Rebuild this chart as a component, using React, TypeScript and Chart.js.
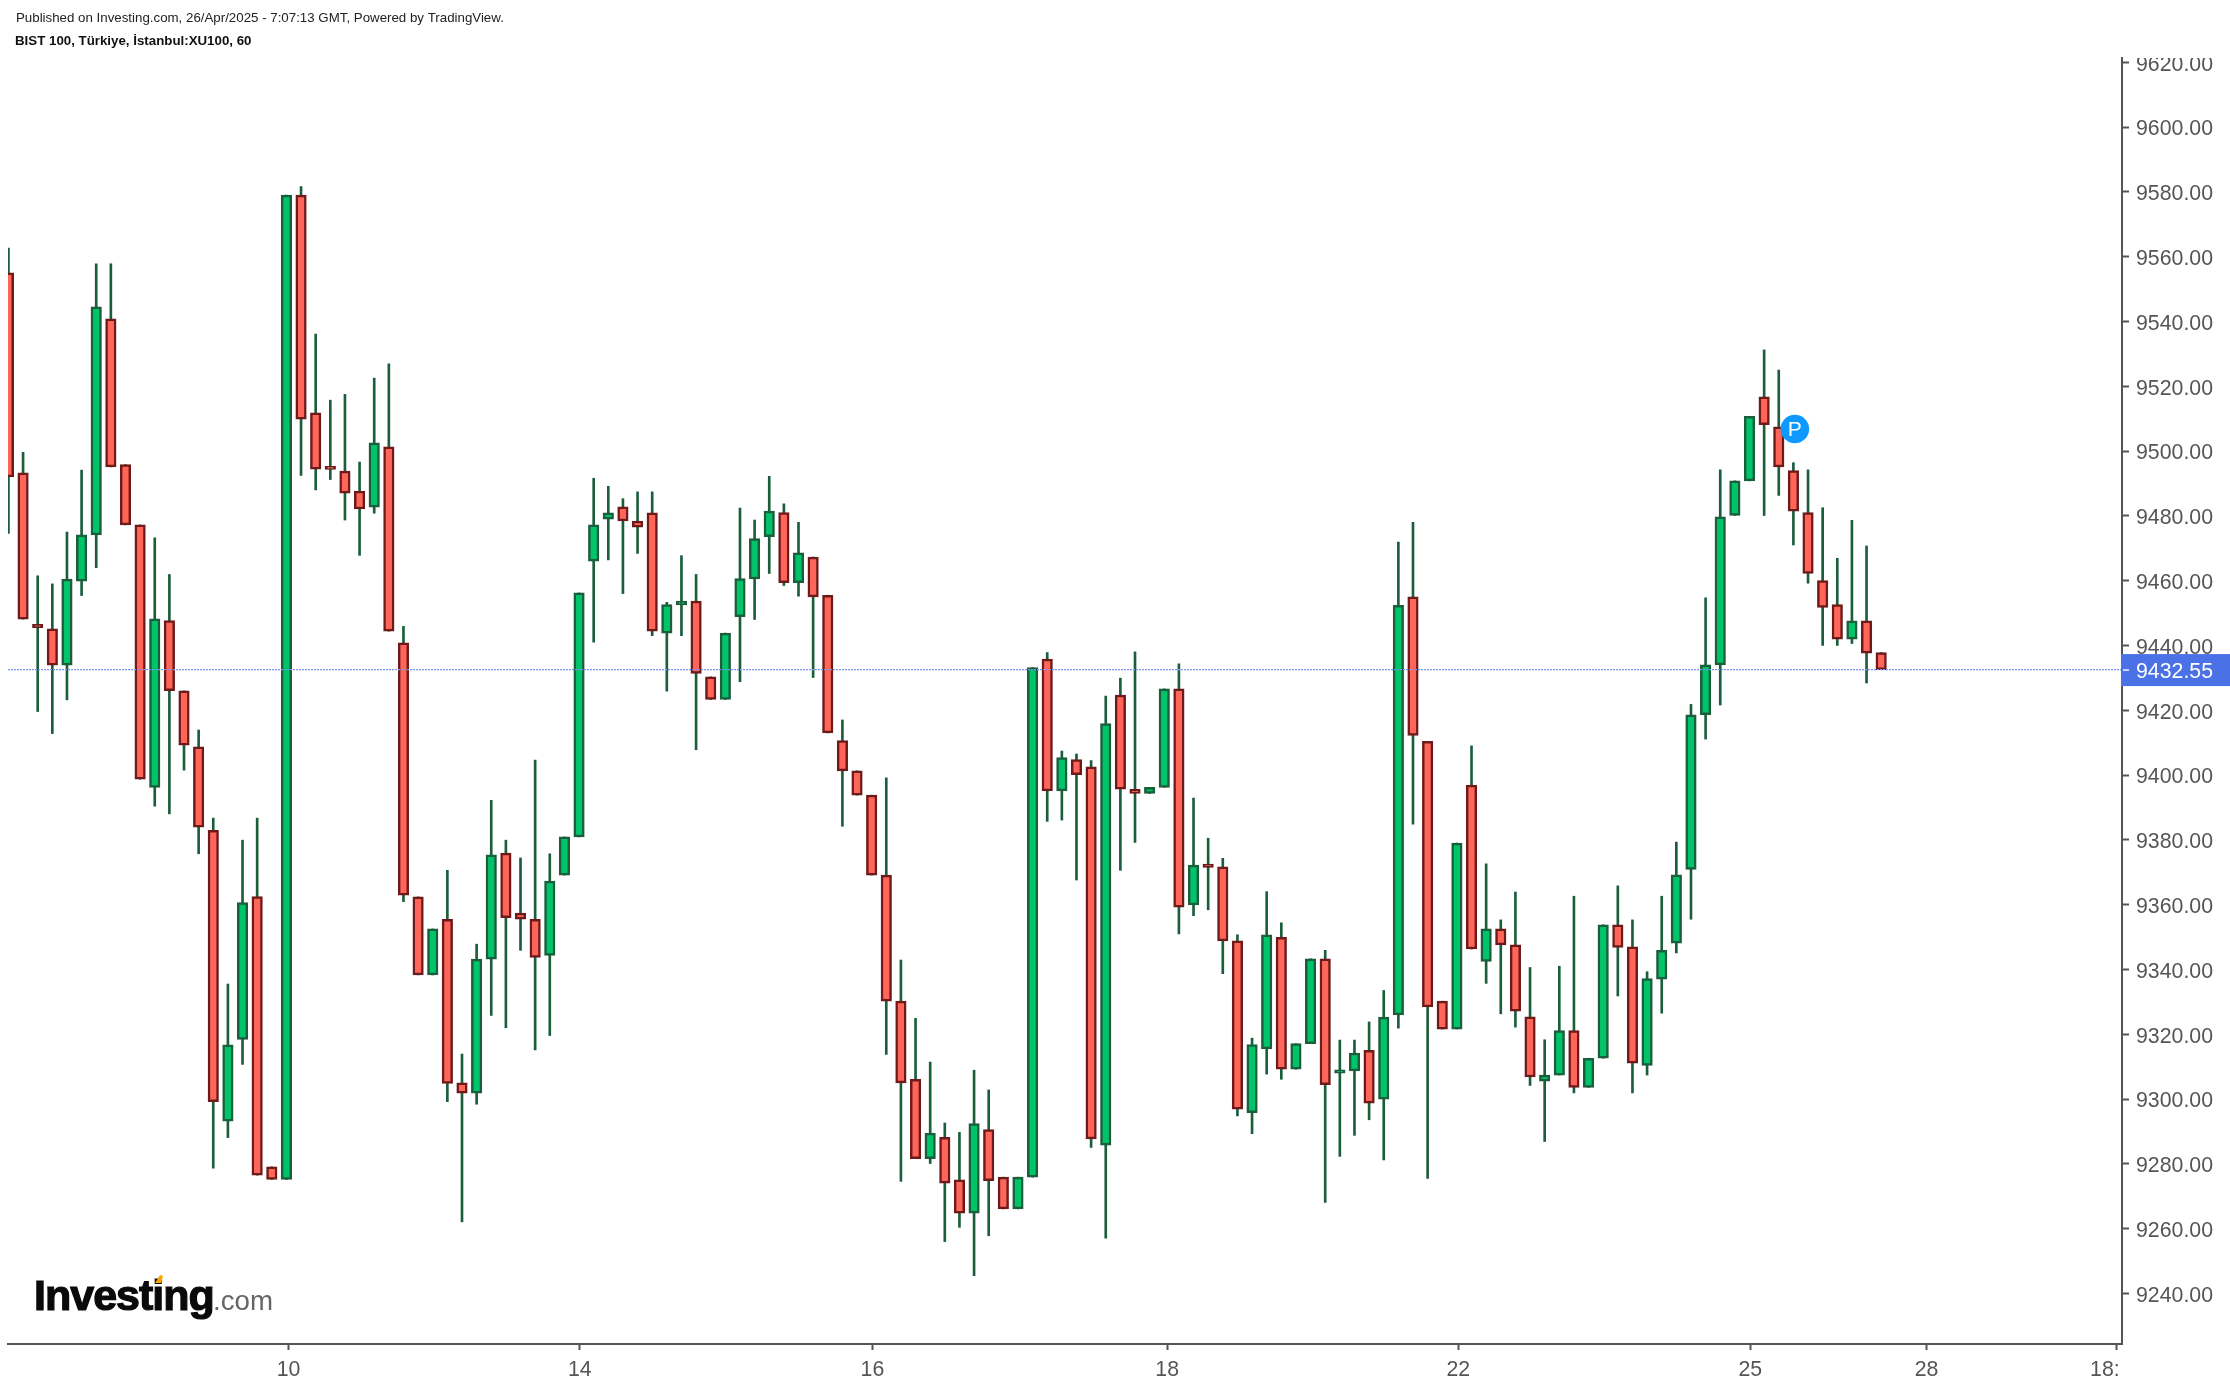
import React, { useEffect, useRef } from 'react'
import { Chart, registerables } from 'chart.js'

Chart.register(...registerables)

const opens = [
  9555, 9493.3, 9446.5, 9445.1, 9433.9, 9459.8, 9474.1, 9540.8, 9495.8, 9477.2,
  9396.2, 9447.7, 9426, 9408.7, 9382.9, 9293.2, 9318.4, 9362.5, 9279.1, 9275.2,
  9579, 9511.8, 9495.3, 9493.8, 9487.6, 9482.7, 9501.3, 9440.8, 9362.4, 9338.3,
  9355.5, 9305, 9301.8, 9343.2, 9375.9, 9357.4, 9355.5, 9344.3, 9369.1, 9380.9,
  9466, 9479, 9482.8, 9478.4, 9480.9, 9443.8, 9452.5, 9453.7, 9430.3, 9423.3,
  9448.9, 9460.5, 9473.6, 9481, 9459.4, 9467.3, 9455.5, 9410.6, 9401.3, 9393.8,
  9369.1, 9330.2, 9306.1, 9281.6, 9288.2, 9275.1, 9264.8, 9290.6, 9275.9, 9266.1,
  9275.9, 9435.8, 9395.1, 9404.8, 9402.5, 9285.8, 9424.7, 9395.6, 9394.3, 9396.2,
  9426.6, 9359.9, 9372.5, 9371.7, 9348.8, 9295.8, 9315.5, 9349.9, 9309.2, 9317.1,
  9343.3, 9308, 9308.7, 9315, 9300, 9326, 9455, 9410.4, 9330.2, 9321.6,
  9396.9, 9342.5, 9352.5, 9347.6, 9325.4, 9305.5, 9307.4, 9321.1, 9303.6, 9312.6,
  9353.8, 9347, 9310.4, 9337, 9348.1, 9370.9, 9418.6, 9434, 9480.1, 9490.8,
  9516.7, 9507.5, 9494, 9481, 9460, 9452.6, 9441.9, 9447.6, 9437.8,
]
const closes = [
  9492, 9448.1, 9445.5, 9433.9, 9460.5, 9474.1, 9544.5, 9495.1, 9477.2, 9398.7,
  9448.2, 9426, 9409.2, 9383.9, 9299.2, 9316.7, 9360.6, 9276.5, 9275.2, 9579,
  9509.8, 9494.4, 9494.3, 9487, 9482.1, 9502.5, 9444.4, 9362.9, 9338.3, 9352.5,
  9304.8, 9301.8, 9343.2, 9375.4, 9356, 9355.5, 9343.7, 9367.3, 9380.9, 9456.2,
  9477.2, 9480.9, 9478.4, 9476.5, 9444.4, 9452.6, 9453.7, 9431.4, 9423.3, 9443.8,
  9460.6, 9473, 9481.5, 9459.4, 9468.6, 9455, 9413, 9401.3, 9393.8, 9369.1,
  9330.2, 9305, 9281.6, 9289.5, 9274, 9264.8, 9292.4, 9274.8, 9266.1, 9275.9,
  9433.2, 9395.1, 9405.4, 9400.1, 9287.7, 9415.9, 9395.6, 9394.3, 9396.2, 9426.6,
  9359.2, 9372.2, 9371.5, 9348.8, 9296.9, 9316.8, 9350.7, 9309.2, 9317.1, 9343.3,
  9304.4, 9309, 9314.2, 9298.7, 9325.3, 9452.4, 9412.2, 9328.4, 9321.6, 9379,
  9346.3, 9352.5, 9347.6, 9327.1, 9306.8, 9307.4, 9321.1, 9303.6, 9312.6, 9353.8,
  9346.8, 9311.1, 9337.2, 9345.9, 9369.2, 9418.6, 9434, 9479.7, 9490.8, 9510.7,
  9508.1, 9495.1, 9481.4, 9462.2, 9451.7, 9441.9, 9447.6, 9437.6, 9432.55,
]
const highs = [
  9562.6, 9499.6, 9461.5, 9459, 9475, 9494.1, 9557.8, 9557.8, 9495.8, 9477.2,
  9473.2, 9461.9, 9426, 9413.9, 9386.7, 9335.5, 9379.9, 9386.7, 9279.1, 9579,
  9581.6, 9536.1, 9515.7, 9517.5, 9496.6, 9522.5, 9526.9, 9445.9, 9362.4, 9352.5,
  9370.6, 9313.9, 9347.8, 9392.2, 9379.9, 9374.4, 9404.6, 9375.7, 9380.9, 9456.2,
  9491.6, 9489.1, 9485.3, 9487.4, 9487.4, 9453.3, 9467.7, 9461.9, 9430.3, 9443.8,
  9482.4, 9478.7, 9492.2, 9483.7, 9478, 9467.3, 9455.5, 9417, 9401.3, 9393.8,
  9399.1, 9342.9, 9324.9, 9311.4, 9292.6, 9289.7, 9308.9, 9302.8, 9275.9, 9275.9,
  9433.2, 9437.8, 9407.4, 9406.5, 9404.5, 9424.4, 9429.9, 9438, 9396.2, 9426.6,
  9434.3, 9392.9, 9380.5, 9374.3, 9350.7, 9318.8, 9364, 9354.4, 9317.1, 9343.3,
  9345.9, 9318.2, 9318.2, 9323.8, 9333.5, 9471.9, 9478, 9410.4, 9330.2, 9379,
  9409, 9372.6, 9355.3, 9363.9, 9340.6, 9318.3, 9341, 9362.6, 9312.6, 9353.8,
  9365.8, 9355.3, 9339.3, 9362.6, 9379.3, 9421.8, 9454.7, 9494.2, 9490.8, 9510.7,
  9531.2, 9525, 9496.4, 9494.2, 9482.5, 9466.9, 9478.6, 9470.7, 9437.8,
]
const lows = [
  9474.6, 9448.1, 9419.6, 9412.8, 9423.2, 9455.4, 9464, 9495.1, 9477.2, 9398.7,
  9390.4, 9388, 9401.5, 9375.7, 9278.7, 9288.1, 9310.7, 9276.5, 9275.2, 9275.2,
  9492.5, 9488, 9491.2, 9478.7, 9467.8, 9480.8, 9444.4, 9360.9, 9338.3, 9338.3,
  9299.2, 9262.1, 9298.4, 9325.8, 9322, 9345.9, 9315.2, 9319.6, 9369.1, 9380.9,
  9441, 9466.4, 9456, 9468.4, 9443, 9425.9, 9443, 9407.8, 9423.3, 9423.3,
  9428.8, 9448, 9462.2, 9458.5, 9455.2, 9430.1, 9413, 9384.2, 9393.8, 9369.1,
  9313.8, 9274.6, 9281.6, 9280.1, 9256, 9260.4, 9245.5, 9257.8, 9266.1, 9266.1,
  9275.9, 9385.7, 9386.1, 9367.6, 9285.1, 9257.1, 9370.6, 9379.2, 9394.3, 9396.2,
  9351, 9356.6, 9358.4, 9338.7, 9294.8, 9289.3, 9307.7, 9306.1, 9309.2, 9317.1,
  9268.1, 9282.3, 9288.8, 9293.6, 9281.2, 9321.9, 9384.8, 9275.5, 9321.6, 9321.6,
  9346.3, 9335.7, 9326.3, 9322.2, 9304.2, 9286.9, 9307.4, 9301.9, 9303.6, 9312.6,
  9331.8, 9301.9, 9307.4, 9326.5, 9345.1, 9355.5, 9411.1, 9421.6, 9480.1, 9490.8,
  9480.1, 9486.3, 9471, 9459.2, 9440, 9440, 9440.6, 9428.4, 9432.55,
]

const priceTicks = [
  9620, 9600, 9580, 9560, 9540, 9520, 9500, 9480, 9460, 9440, 9420, 9400, 9380,
  9360, 9340, 9320, 9300, 9280, 9260, 9240,
]
const dayTickBars = [19.15, 39.05, 59.05, 79.2, 99.1, 119.05, 131.1, 144.1]
const dayTickLabels = ['10', '14', '16', '18', '22', '25', '28', '18:00']

const lastPrice = 9432.55
const publishedText = 'Published on Investing.com, 26/Apr/2025 - 7:07:13 GMT, Powered by TradingView.'
const symbolText = 'BIST 100, Türkiye, İstanbul:XU100, 60'

const X_MIN = -0.03
const X_MAX = 144.46
const Y_MIN = 9224.4
const Y_MAX = 9621.3
const AXIS_COLOR = '#555555'
const WICK_COLOR = '#1b5e3c'
const FONT = '"Liberation Sans", Arial, sans-serif'

const barIndexes = opens.map((_, i) => i)

const overlayPlugin = {
  id: 'overlay',
  beforeDraw(chart: any) {
    // price labels sit a touch below their tick marks
    chart.scales.y.getLabelItems().forEach((item: any) => {
      item.textOffset = 2.5
    })
  },
  afterDraw(chart: any) {
    const { ctx, scales } = chart
    const x = scales.x
    const y = scales.y
    const priceY = y.getPixelForValue(lastPrice)
    ctx.save()

    // label above the pane and the time label past the price axis are cut off in the original
    ctx.fillStyle = '#ffffff'
    ctx.fillRect(x.right + 1, 0, chart.width - x.right, y.top)
    ctx.fillRect(x.right - 4, y.bottom + 8, chart.width - x.right + 4, chart.height - y.bottom)
    ctx.fillRect(x.right + 1, y.bottom - 1, chart.width - x.right, chart.height - y.bottom + 1)

    // last price tag
    ctx.fillStyle = '#4a72e6'
    ctx.fillRect(x.right - 1, priceY - 15.5, chart.width - x.right + 1, 32)
    ctx.fillStyle = '#c9d4f7'
    ctx.fillRect(x.right + 1, priceY - 0.5, 6, 2)
    ctx.fillStyle = '#ffffff'
    ctx.font = `21.3px ${FONT}`
    ctx.textBaseline = 'middle'
    ctx.textAlign = 'left'
    ctx.fillText(lastPrice.toFixed(2), x.right + 14, priceY + 2.5)

    // publish marker
    const markerX = x.getPixelForValue(122.1)
    const markerY = y.getPixelForValue(9506.8)
    ctx.fillStyle = '#0d99ff'
    ctx.beginPath()
    ctx.arc(markerX, markerY, 14.3, 0, Math.PI * 2)
    ctx.fill()
    ctx.fillStyle = '#ffffff'
    ctx.font = `21px ${FONT}`
    ctx.textAlign = 'center'
    ctx.fillText('P', markerX, markerY + 1)

    // header
    ctx.textAlign = 'left'
    ctx.fillStyle = '#222222'
    ctx.font = `13.3px ${FONT}`
    ctx.fillText(publishedText, 16, 18)
    ctx.fillStyle = '#111111'
    ctx.font = `bold 13.3px ${FONT}`
    ctx.fillText(symbolText, 15, 41)

    // logo
    ctx.textBaseline = 'alphabetic'
    ctx.filter = 'blur(0.6px)'
    ctx.fillStyle = '#0a0a0a'
    ctx.strokeStyle = '#0a0a0a'
    ctx.lineWidth = 1.2
    ctx.font = `bold 43px ${FONT}`
    ctx.letterSpacing = '-1px'
    ctx.fillText('Investing', 34, 1310)
    ctx.strokeText('Investing', 34, 1310)
    ctx.fillStyle = '#666666'
    ctx.font = `27.7px ${FONT}`
    ctx.letterSpacing = '0px'
    ctx.fillText('.com', 213, 1310)
    ctx.fillStyle = '#f7a400'
    ctx.beginPath()
    ctx.moveTo(155, 1283)
    ctx.lineTo(160, 1275)
    ctx.lineTo(163, 1276)
    ctx.lineTo(161, 1283)
    ctx.closePath()
    ctx.fill()
    ctx.restore()
  },
}

const App = () => {
  const chartRef = useRef<HTMLCanvasElement | null>(null)

  useEffect(() => {
    document.body.style.margin = '0'
    if (!chartRef.current) return
    const chart = new Chart(chartRef.current, {
      type: 'bar',
      data: {
        datasets: [
          {
            type: 'line',
            order: 0,
            data: [
              { x: X_MIN, y: lastPrice },
              { x: X_MAX, y: lastPrice },
            ],
            borderColor: '#7a93ee',
            borderWidth: 1.2,
            borderDash: [2, 1],
            pointRadius: 0,
          },
          {
            order: 1,
            grouped: false,
            data: barIndexes.map((i) => ({ x: i, y: [opens[i], closes[i]] })),
            barThickness: 10.5,
            borderWidth: 2.5,
            borderSkipped: false,
            backgroundColor: barIndexes.map((i) => (closes[i] >= opens[i] ? '#00c46a' : '#ff6659')),
            borderColor: barIndexes.map((i) => (closes[i] >= opens[i] ? '#1b5e3c' : '#6e1a1a')),
          },
          {
            order: 2,
            grouped: false,
            data: barIndexes.map((i) => ({ x: i, y: [lows[i], highs[i]] })),
            barThickness: 2,
            backgroundColor: WICK_COLOR,
            borderWidth: 0,
          },
        ],
      } as any,
      options: {
        responsive: false,
        animation: false,
        layout: { padding: { left: 8, top: 58, right: 0, bottom: 0 } },
        plugins: {
          legend: { display: false },
          tooltip: { enabled: false },
        },
        scales: {
          x: {
            type: 'linear',
            offset: false,
            min: X_MIN,
            max: X_MAX,
            afterFit: (scale: any) => {
              scale.height = 42
            },
            afterBuildTicks: (scale: any) => {
              scale.ticks = dayTickBars.map((value) => ({ value }))
            },
            border: { color: AXIS_COLOR, width: 2 },
            grid: {
              offset: false,
              drawOnChartArea: false,
              drawTicks: true,
              tickLength: 6,
              tickWidth: 2,
              tickColor: AXIS_COLOR,
            },
            ticks: {
              autoSkip: false,
              maxRotation: 0,
              padding: 7,
              color: AXIS_COLOR,
              font: { family: FONT, size: 21.3 },
              callback: (value: any) => dayTickLabels[dayTickBars.indexOf(value)],
            },
          },
          y: {
            position: 'right',
            min: Y_MIN,
            max: Y_MAX,
            afterFit: (scale: any) => {
              scale.width = 108
            },
            afterBuildTicks: (scale: any) => {
              scale.ticks = priceTicks.map((value) => ({ value }))
            },
            border: { color: AXIS_COLOR, width: 2 },
            grid: {
              drawOnChartArea: false,
              drawTicks: true,
              tickLength: 7,
              tickWidth: 2,
              tickColor: AXIS_COLOR,
            },
            ticks: {
              autoSkip: false,
              padding: 7,
              color: AXIS_COLOR,
              font: { family: FONT, size: 21.3 },
              callback: (value: any) => Number(value).toFixed(2),
            },
          },
        },
      },
      plugins: [overlayPlugin],
    })

    return () => chart.destroy()
  }, [])

  return <canvas ref={chartRef} width={2230} height={1386} style={{ display: 'block', width: 2230, height: 1386 }} />
}

export default App
